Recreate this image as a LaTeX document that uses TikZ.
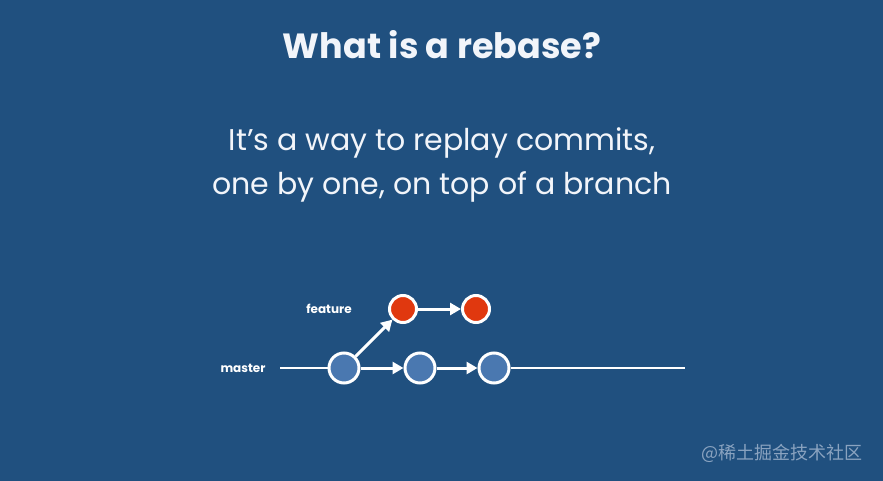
\documentclass[tikz,border=0pt]{standalone}
\usepackage{fontspec}
\setmainfont{Poppins}
\newfontfamily\cjk{Noto Sans CJK SC}
\usetikzlibrary{arrows.meta}
\definecolor{bg}{HTML}{20507F}
\definecolor{blueNode}{HTML}{4A78B0}
\definecolor{redNode}{HTML}{E0380F}
\definecolor{txt}{HTML}{F2F5FA}
\definecolor{wm}{HTML}{8AA3C0}
\begin{document}
\begin{tikzpicture}[x=1pt,y=-1pt,
  commit/.style={circle,draw=white,line width=3pt,inner sep=0pt},
  bc/.style={commit,fill=blueNode,minimum size=30pt},
  rc/.style={commit,fill=redNode,minimum size=27pt},
  link/.style={draw=white,line width=3pt,-{Triangle[length=11pt,width=12pt]}},
  lbl/.style={text=white,font=\fontsize{12}{14}\selectfont\bfseries}
]
\fill[bg] (0,0) rectangle (883,481);
\useasboundingbox (0,0) rectangle (883,481);
\node[text=txt,font=\fontsize{35}{40}\selectfont\bfseries] (title) at (442,45) {What is a rebase?};
\node[text=txt,font=\fontsize{30}{44}\selectfont,align=center] (sub) at (442,165) {It’s a way to replay commits,\\one by one, on top of a branch};
\node[bc] (m1) at (344,368) {};
\node[bc] (m2) at (420,368) {};
\node[bc] (m3) at (494,368) {};
\node[rc] (f1) at (403,309) {};
\node[rc] (f2) at (476,309) {};
\coordinate (ls) at (280,368);
\coordinate (le) at (685,368);
\node[lbl] (lm) at (243,368) {master};
\node[lbl] (lf) at (329,309) {feature};
\draw[white,line width=1.5pt] (ls) -- (m1);
\draw[white,line width=1.5pt] (m3) -- (le);
\draw[link] (m1) -- (m2);
\draw[link] (m2) -- (m3);
\draw[link] (m1) -- (f1);
\draw[link] (f1) -- (f2);
\node[text=wm,font=\cjk\fontsize{18}{20}\selectfont,anchor=east] (wmk) at (866,453) {@稀土掘金技术社区};
\end{tikzpicture}
\end{document}
